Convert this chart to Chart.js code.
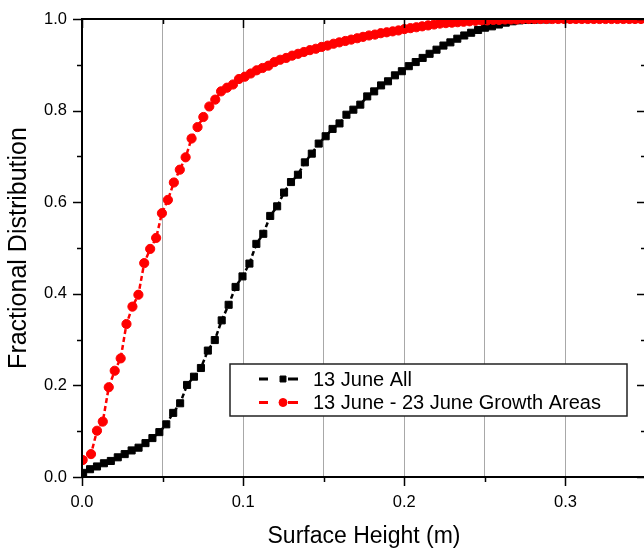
<!DOCTYPE html>
<html>
<head>
<meta charset="utf-8">
<script src="https://cdn.jsdelivr.net/npm/chart.js@4/dist/chart.umd.min.js"></script>
<style>
  html, body { margin: 0; padding: 0; overflow: hidden; background: #fff; }
  canvas { display: block; }
</style>
</head>
<body>
<canvas id="cdf-chart" width="652" height="548"></canvas>
<script>
// Cumulative surface-height distributions, 13 June survey
const SERIES_NAMES = ['13 June All', '13 June - 23 June Growth Areas'];

const ALL_X = [
  0.0007, 0.0050, 0.0093, 0.0136, 0.0179, 0.0222, 0.0265, 0.0308, 0.0351, 0.0394,
  0.0437, 0.0480, 0.0523, 0.0566, 0.0609, 0.0652, 0.0695, 0.0738, 0.0781, 0.0824,
  0.0867, 0.0910, 0.0953, 0.0996, 0.1039, 0.1082, 0.1125, 0.1168, 0.1211, 0.1254,
  0.1297, 0.1340, 0.1383, 0.1426, 0.1469, 0.1512, 0.1555, 0.1598, 0.1641, 0.1684,
  0.1727, 0.1770, 0.1813, 0.1856, 0.1899, 0.1942, 0.1985, 0.2028, 0.2071, 0.2114,
  0.2157, 0.2200, 0.2243, 0.2286, 0.2329, 0.2372, 0.2415, 0.2458, 0.2501, 0.2544,
  0.2587, 0.2630, 0.2673, 0.2716, 0.2759, 0.2802, 0.2845, 0.2888, 0.2931, 0.2974,
  0.3017, 0.3060, 0.3103, 0.3146, 0.3189, 0.3232, 0.3275, 0.3318, 0.3361, 0.3404,
  0.3447, 0.3490
];
const ALL_Y = [
  0.009, 0.017, 0.023, 0.030, 0.035, 0.043, 0.050, 0.058, 0.064, 0.074,
  0.085, 0.098, 0.115, 0.140, 0.161, 0.201, 0.219, 0.238, 0.276, 0.299,
  0.342, 0.376, 0.415, 0.438, 0.466, 0.509, 0.531, 0.570, 0.591, 0.621,
  0.644, 0.660, 0.687, 0.706, 0.728, 0.744, 0.760, 0.772, 0.791, 0.802,
  0.813, 0.831, 0.842, 0.855, 0.864, 0.877, 0.886, 0.897, 0.906, 0.915,
  0.924, 0.933, 0.942, 0.949, 0.957, 0.964, 0.970, 0.976, 0.981, 0.984,
  0.988, 0.992, 0.995, 0.997, 0.998, 0.998, 0.999, 0.999, 1.000, 1.000,
  1.000, 1.000, 1.000, 1.000, 1.000, 1.000, 1.000, 1.000, 1.000, 1.000,
  1.000, 1.000
];

const GROWTH_X = [
  0.0004, 0.0056, 0.0093, 0.0129, 0.0166, 0.0203, 0.0240, 0.0276, 0.0313, 0.0350,
  0.0386, 0.0423, 0.0460, 0.0496, 0.0533, 0.0570, 0.0607, 0.0643, 0.0680, 0.0717,
  0.0753, 0.0790, 0.0827, 0.0863, 0.0900, 0.0937, 0.0974, 0.1010, 0.1047, 0.1084,
  0.1120, 0.1157, 0.1194, 0.1230, 0.1267, 0.1304, 0.1341, 0.1377, 0.1414, 0.1451,
  0.1487, 0.1524, 0.1561, 0.1597, 0.1634, 0.1671, 0.1708, 0.1744, 0.1781, 0.1818,
  0.1854, 0.1891, 0.1928, 0.1964, 0.2001, 0.2038, 0.2075, 0.2111, 0.2148, 0.2185,
  0.2221, 0.2258, 0.2295, 0.2331, 0.2368, 0.2405, 0.2442, 0.2478, 0.2515, 0.2552,
  0.2588, 0.2625, 0.2662, 0.2698, 0.2735, 0.2772, 0.2809, 0.2845, 0.2882, 0.2919,
  0.2955, 0.2992, 0.3029, 0.3065, 0.3102, 0.3139, 0.3176, 0.3212, 0.3249, 0.3286,
  0.3322, 0.3359, 0.3396, 0.3432, 0.3469
];
const GROWTH_Y = [
  0.037, 0.050, 0.101, 0.121, 0.196, 0.232, 0.259, 0.334, 0.372, 0.398,
  0.467, 0.498, 0.522, 0.576, 0.605, 0.643, 0.671, 0.698, 0.739, 0.764,
  0.786, 0.809, 0.824, 0.842, 0.850, 0.857, 0.869, 0.874, 0.881, 0.888,
  0.893, 0.898, 0.906, 0.911, 0.915, 0.920, 0.924, 0.928, 0.932, 0.935,
  0.939, 0.942, 0.946, 0.949, 0.952, 0.955, 0.958, 0.961, 0.964, 0.966,
  0.969, 0.971, 0.973, 0.975, 0.978, 0.980, 0.982, 0.984, 0.986, 0.988,
  0.990, 0.991, 0.992, 0.993, 0.994, 0.995, 0.996, 0.997, 0.997, 0.998,
  0.998, 0.999, 0.999, 0.999, 1.000, 1.000, 1.000, 1.000, 1.000, 1.000,
  1.000, 1.000, 1.000, 1.000, 1.000, 1.000, 1.000, 1.000, 1.000, 1.000,
  1.000, 1.000, 1.000, 1.000, 1.000
];

const X_TICK_LABELS = ['0.0', '0.1', '0.2', '0.3'];
const Y_TICK_LABELS = ['0.0', '0.2', '0.4', '0.6', '0.8', '1.0'];

const FONT_FAMILY = "Arial, 'Liberation Sans', sans-serif";

function toPoints(xs, ys) {
  return xs.map((x, i) => ({ x: x, y: ys[i] }));
}

function isLabelled(value, labels) {
  return labels.includes(value.toFixed(1)) && Math.abs(value * 10 - Math.round(value * 10)) < 1e-6;
}

// fixed axis box sizes, no extra padding for edge labels
function fixBox(width, height) {
  return scale => {
    if (width !== null) scale.width = width;
    if (height !== null) scale.height = height;
    scale.paddingTop = 0;
    scale.paddingBottom = 0;
    scale.paddingLeft = 0;
    scale.paddingRight = 0;
  };
}

/**
 * Frame plus Origin-style tick marks: outward on left/bottom, inward on top/right
 */
const frameTicks = {
  id: 'frameTicks',
  afterDatasetsDraw(chart) {
    const { ctx, chartArea: a, scales } = chart;
    const xs = scales.x, ys = scales.y;
    ctx.save();
    ctx.strokeStyle = '#000';
    ctx.lineWidth = 2;
    ctx.strokeRect(a.left, a.top, a.right - a.left, a.bottom - a.top);

    ctx.lineWidth = 1.5;
    ctx.beginPath();
    xs.ticks.forEach(t => {
      const px = Math.round(xs.getPixelForValue(t.value)) + 0.5;
      const len = isLabelled(t.value, X_TICK_LABELS) ? 9 : 5;
      ctx.moveTo(px, a.bottom); ctx.lineTo(px, a.bottom + len);
      ctx.moveTo(px, a.top); ctx.lineTo(px, a.top + len);
    });
    ys.ticks.forEach(t => {
      const py = Math.round(ys.getPixelForValue(t.value)) + 0.5;
      const len = isLabelled(t.value, Y_TICK_LABELS) ? 9 : 5;
      ctx.moveTo(a.left - len, py); ctx.lineTo(a.left, py);
      ctx.moveTo(a.right - len, py); ctx.lineTo(a.right, py);
    });
    ctx.stroke();
    ctx.restore();
  }
};

/**
 * Boxed legend inside the plot, sample = dash, marker, dash
 */
const boxLegend = {
  id: 'boxLegend',
  afterDraw(chart) {
    const { ctx } = chart;
    const box = { left: 230, top: 364, right: 627, bottom: 416 };
    const rows = [0, 1];
    ctx.save();
    ctx.fillStyle = '#fff';
    ctx.fillRect(box.left, box.top, box.right - box.left, box.bottom - box.top);
    ctx.strokeStyle = '#222';
    ctx.lineWidth = 1.5;
    ctx.strokeRect(box.left, box.top, box.right - box.left, box.bottom - box.top);

    rows.forEach(r => {
      const ds = chart.data.datasets.find(d => d.label === SERIES_NAMES[r]);
      const y = 379 + r * 23.5;
      ctx.strokeStyle = ds.borderColor;
      ctx.lineWidth = 3;
      ctx.beginPath();
      ctx.moveTo(259, y); ctx.lineTo(268, y);
      ctx.moveTo(288, y); ctx.lineTo(298, y);
      ctx.stroke();
      ctx.fillStyle = ds.pointBackgroundColor;
      ctx.strokeStyle = ds.pointBorderColor;
      ctx.lineWidth = 1;
      Chart.helpers.drawPoint(ctx, { pointStyle: ds.pointStyle, radius: ds.pointStyle === 'rect' ? 4.2 : 4, borderWidth: 1 }, 283, y);
      ctx.fillStyle = '#000';
      ctx.font = '20px ' + FONT_FAMILY;
      ctx.textAlign = 'left';
      ctx.textBaseline = 'middle';
      ctx.fillText(SERIES_NAMES[r], 313, y + 1);
    });
    ctx.restore();
  }
};

const ctx = document.getElementById('cdf-chart');

new Chart(ctx, {
  type: 'line',
  data: {
    datasets: [
      {
        label: SERIES_NAMES[0],
        data: toPoints(ALL_X, ALL_Y),
        borderColor: '#000',
        backgroundColor: '#000',
        pointBackgroundColor: '#000',
        pointBorderColor: '#000',
        pointStyle: 'rect',
        pointRadius: 5,
        pointBorderWidth: 1,
        borderWidth: 2.5,
        borderDash: [5, 3],
        tension: 0,
        clip: 0,
        order: 1
      },
      {
        label: SERIES_NAMES[1],
        data: toPoints(GROWTH_X, GROWTH_Y),
        borderColor: '#ff0000',
        backgroundColor: '#ff0000',
        pointBackgroundColor: '#ff0000',
        pointBorderColor: '#ff0000',
        pointStyle: 'circle',
        pointRadius: 4.6,
        pointBorderWidth: 1,
        borderWidth: 2.5,
        borderDash: [5, 3],
        tension: 0,
        clip: 0,
        order: 0
      }
    ]
  },
  options: {
    responsive: false,
    animation: false,
    layout: { padding: { top: 19, right: 5, left: 0, bottom: 0 } },
    plugins: {
      legend: { display: false },
      tooltip: { enabled: false }
    },
    scales: {
      x: {
        type: 'linear',
        min: 0,
        max: 0.35,
        border: { display: false },
        grid: { color: '#a8a8a8', lineWidth: 1, drawTicks: false },
        ticks: {
          stepSize: 0.05,
          autoSkip: false,
          maxRotation: 0,
          padding: 16,
          color: '#000',
          font: { family: FONT_FAMILY, size: 16.5 },
          callback: v => (isLabelled(v, X_TICK_LABELS) ? v.toFixed(1) : '')
        },
        title: {
          display: true,
          text: 'Surface Height (m)',
          color: '#000',
          font: { family: FONT_FAMILY, size: 23, lineHeight: 1 },
          padding: { top: 0, bottom: 0 }
        },
        afterFit: fixBox(null, 71)
      },
      y: {
        type: 'linear',
        min: 0,
        max: 1,
        border: { display: false },
        grid: { display: false, drawTicks: false },
        ticks: {
          stepSize: 0.1,
          autoSkip: false,
          padding: 15,
          color: '#000',
          font: { family: FONT_FAMILY, size: 16.5 },
          callback: v => (isLabelled(v, Y_TICK_LABELS) ? v.toFixed(1) : '')
        },
        title: {
          display: true,
          text: 'Fractional Distribution',
          color: '#000',
          font: { family: FONT_FAMILY, size: 25, lineHeight: 1 },
          padding: { top: 7, bottom: 0 }
        },
        afterFit: fixBox(82, null)
      }
    }
  },
  plugins: [frameTicks, boxLegend]
});
</script>
</body>
</html>
